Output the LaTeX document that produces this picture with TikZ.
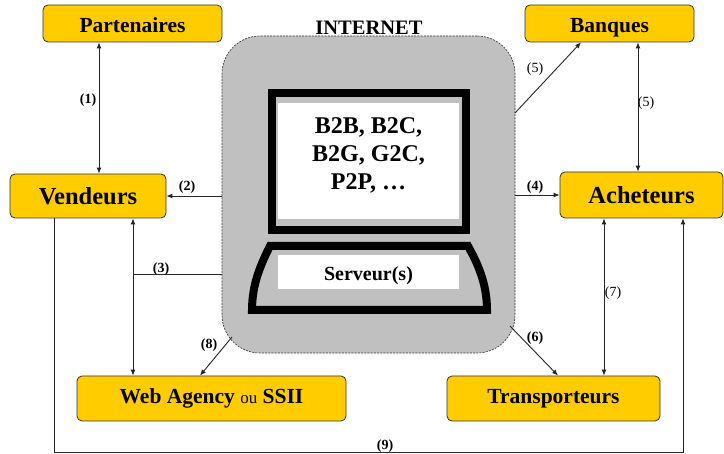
\documentclass[tikz,border=0pt]{standalone}
\usepackage{fontspec}
\setmainfont{Liberation Serif}
\usetikzlibrary{arrows.meta}
\definecolor{boxyellow}{HTML}{FFCC00}
\definecolor{netgrey}{HTML}{C0C0C0}
\tikzset{
  actor/.style={draw=black!80, line width=0.8pt, fill=boxyellow, rounded corners=5pt,
    inner sep=0pt, font=\bfseries\fontsize{21.5}{24}\selectfont},
  topactor/.style={actor, text height=19pt, text depth=0pt},
  bigactor/.style={actor, font=\bfseries\fontsize{24.5}{27}\selectfont},
  conn/.style={line width=0.9pt, draw=black!85},
  tip/.style={-{Latex[length=6pt,width=5pt]}},
  bitip/.style={{Latex[length=6pt,width=5pt]}-{Latex[length=6pt,width=5pt]}},
  lbl/.style={font=\bfseries\fontsize{14}{16}\selectfont, inner sep=0pt},
  lbln/.style={font=\fontsize{14}{16}\selectfont, inner sep=0pt},
}
\begin{document}
\begin{tikzpicture}[x=1pt,y=-1pt]
\useasboundingbox (0,0) rectangle (724,454);
% Internet cloud
\node[draw=black!80, dashed, dash pattern=on 2pt off 1.2pt, line width=0.6pt, fill=netgrey,
  rounded corners=38pt, minimum width=293pt, minimum height=317pt, inner sep=0pt]
  (net) at (368.5,194.5) {};
\node[font=\bfseries\fontsize{20.5}{22}\selectfont, inner sep=0pt, anchor=base] (nettitle) at (369,35) {INTERNET};
% monitor
\draw[line width=8pt] (272,93) rectangle (466,230);
\node[fill=white, minimum width=181pt, minimum height=116pt, inner sep=0pt] (screen) at (368.5,161) {};
\node[font=\bfseries\fontsize{24}{28}\selectfont, align=center, inner sep=0pt] (screentext) at (368.5,155) {B2B, B2C,\\B2G, G2C,\\P2P, \dots};
% base
\draw[line width=8pt, line join=miter] (270,246) -- (468,246)
  .. controls (478,264) and (487,284) .. (487,310) -- (252,310)
  .. controls (252,284) and (261,264) .. cycle;
\node[fill=white, minimum width=181pt, minimum height=34pt, inner sep=0pt,
  text height=17pt, text depth=0pt,
  font=\bfseries\fontsize{20}{22}\selectfont] (serv) at (368.5,272) {Serveur(s)};
% actors
\node[topactor, minimum width=179pt, minimum height=37pt] (part) at (132.5,23.5) {Partenaires};
\node[topactor, minimum width=169pt, minimum height=37pt] (ban) at (609.5,23.5) {Banques};
\node[bigactor, minimum width=156pt, minimum height=44pt] (vend) at (88,196) {Vendeurs};
\node[bigactor, minimum width=163pt, minimum height=46pt] (ach) at (641.5,195) {Acheteurs};
\node[actor, minimum width=269pt, minimum height=45pt] (web) at (211.5,398.5)
  {Web Agency {\mdseries\fontsize{17}{20}\selectfont ou} SSII};
\node[actor, minimum width=213pt, minimum height=45pt] (trans) at (553.5,398.5) {Transporteurs};
% helper coordinates
\coordinate (j3) at (133,274);
\coordinate (n5) at (515,113);
\coordinate (n6) at (510,326);
\coordinate (n8) at (232,337);
\coordinate (b9l) at (54,452);
% connectors
\draw[conn, bitip] (part.south -| 99,0) -- (vend.north -| 99,0);
\draw[conn, tip] (net.west |- vend.east) -- (vend.east);
\draw[conn] (net.west |- j3) -- (j3);
\draw[conn, bitip] (vend.south -| j3) -- (web.north -| j3);
\draw[conn, tip] (net.east |- ach.west) -- (ach.west);
\draw[conn, tip] (n5) -- (ban.south -| 581,0);
\draw[conn, bitip] (ban.south -| 638,0) -- (ach.north -| 638,0);
\draw[conn, tip] (n6) -- (trans.north -| 558,0);
\draw[conn, bitip] (ach.south -| 604,0) -- (trans.north -| 604,0);
\draw[conn, tip] (n8) -- (web.north -| 200,0);
\draw[conn, tip] (vend.south -| b9l) -- (b9l) -| (ach.south -| 683,0);
% labels
\node[lbl] (l1) at (88,100) {(1)};
\node[lbl] (l2) at (187,187) {(2)};
\node[lbl] (l3) at (161,269) {(3)};
\node[lbl] (l4) at (535,187) {(4)};
\node[lbln] (l5a) at (535,69) {(5)};
\node[lbln] (l5b) at (646,103) {(5)};
\node[lbl] (l6) at (535,338) {(6)};
\node[lbln] (l7) at (613,293) {(7)};
\node[lbl] (l8) at (209,345) {(8)};
\node[lbl] (l9) at (385,446) {(9)};
\end{tikzpicture}
\end{document}
